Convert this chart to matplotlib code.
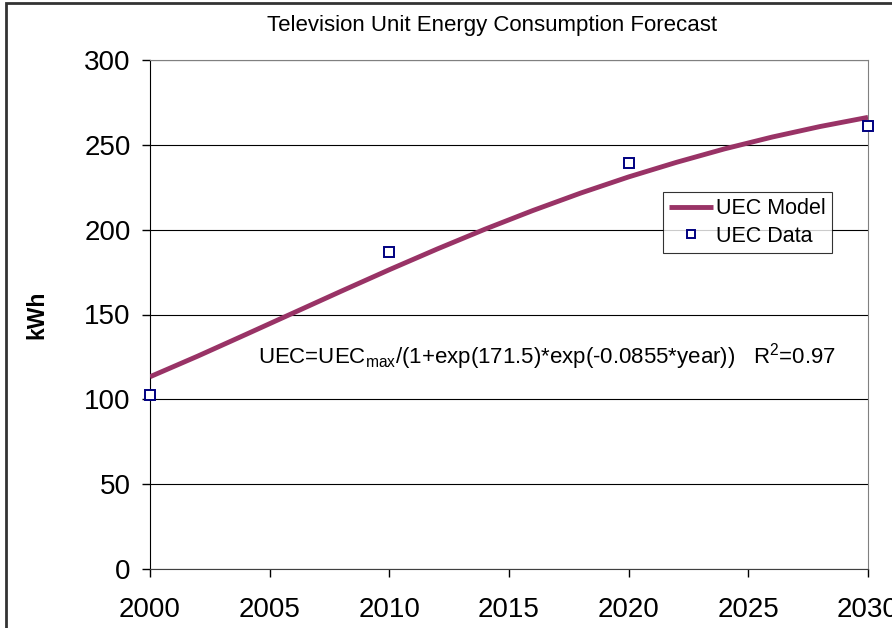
import matplotlib.pyplot as plt
from matplotlib.patches import Rectangle

plt.rcParams['font.family'] = ['Liberation Sans', 'DejaVu Sans']
plt.rcParams['mathtext.fontset'] = 'custom'
plt.rcParams['mathtext.rm'] = 'Liberation Sans'
plt.rcParams['mathtext.it'] = 'Liberation Sans'

# data
data_years = [2000, 2010, 2020, 2030]
data_uec = [102.5, 186.8, 239.3, 261.1]

model_years = [2000, 2002, 2004, 2006, 2008, 2010, 2012, 2014,
               2016, 2018, 2020, 2022, 2024, 2026, 2028, 2030]
model_uec = [113.3, 125.5, 138.2, 151.0, 163.8, 176.4, 188.6, 200.3,
             211.3, 221.6, 231.1, 239.7, 247.6, 254.6, 260.8, 266.2]

fig = plt.figure(figsize=(8.92, 6.28), dpi=100)
ax = fig.add_axes([150/892, 1 - 569/628, 718/892, 509/628])

ax.plot(model_years, model_uec, color='#993366', lw=3.5, label='UEC Model',
        solid_capstyle='butt', zorder=3)
ax.plot(data_years, data_uec, ls='none', marker='s', ms=7.5, mfc='white',
        mec='#000080', mew=1.4, label='UEC Data', clip_on=False, zorder=4)

ax.set_xlim(2000, 2030)
ax.set_ylim(0, 300)
ax.set_xticks(range(2000, 2031, 5))
ax.set_yticks(range(0, 301, 50))
ax.yaxis.grid(True, color='black', lw=0.8)
ax.set_axisbelow(True)

ax.tick_params(axis='both', direction='out', length=6, width=1,
               labelsize=20, colors='black')
ax.tick_params(axis='x', pad=14)
ax.tick_params(axis='y', pad=8)
for side in ['top', 'right']:
    ax.spines[side].set_color('#808080')
ax.spines['left'].set_color('black')
ax.spines['bottom'].set_color('#404040')

ax.set_ylabel('kWh', fontsize=16.5, fontweight='bold')
ax.yaxis.set_label_coords(-0.141, 0.5)

fig.text(492/892, 1 - 26/628, 'Television Unit Energy Consumption Forecast',
         ha='center', va='center', fontsize=16)

ax.text(2004.5, 125,
        r'UEC=UEC$_{\mathrm{max}}$/(1+exp(171.5)*exp(-0.0855*year))   R$^{2}$=0.97',
        fontsize=16, ha='left', va='center')

leg = ax.legend(loc='upper left', bbox_to_anchor=(513/718, 377/509),
                fontsize=15.5, frameon=True, fancybox=False, borderpad=0.3,
                handlelength=2.0, handletextpad=0.15, labelspacing=0.3,
                borderaxespad=0, markerscale=0.8)
leg.get_frame().set_edgecolor('black')
leg.get_frame().set_linewidth(0.8)

# outer chart border (cut off on the right and bottom)
fig.patches.append(Rectangle((6/892, -0.1), 1.2, 1.1 - 3/628,
                             transform=fig.transFigure, fill=False,
                             ec='#333333', lw=2))

fig.savefig('out.png', dpi=100)
